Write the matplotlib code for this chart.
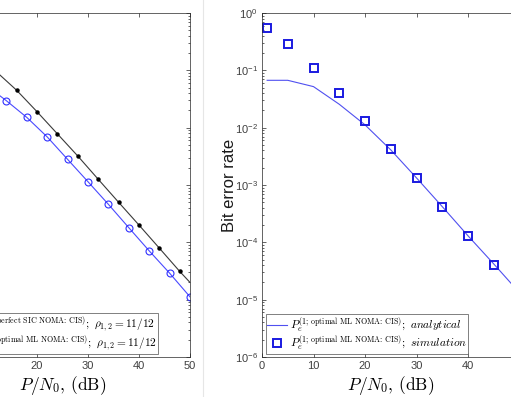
import matplotlib
matplotlib.use("Agg")
import matplotlib.pyplot as plt
from matplotlib.font_manager import FontProperties
from matplotlib.lines import Line2D
from matplotlib.ticker import LogLocator, NullFormatter

plt.rcParams["font.family"] = ["Liberation Sans", "DejaVu Sans"]
plt.rcParams["mathtext.fontset"] = "cm"

# ── data ──────────────────────────────────────────────────────────────────────
snr_sic = [0, 4, 8, 12, 16, 20, 24, 28, 32, 36, 40, 44, 48, 50]
ber_sic = [0.5, 0.36, 0.2, 0.095, 0.045, 0.019, 0.0078, 0.0032, 0.00126,
           5.0e-4, 2.0e-4, 7.9e-5, 3.1e-5, 2.0e-5]
snr_ml = [2, 6, 10, 14, 18, 22, 26, 30, 34, 38, 42, 46, 50]
ber_ml = [0.25, 0.15, 0.055, 0.0295, 0.0151, 0.0069, 0.0028, 0.00114,
          4.6e-4, 1.8e-4, 7.1e-5, 2.9e-5, 1.12e-5]

snr_ana = [1, 5, 10, 15, 20, 25, 30, 35, 40, 45, 50]
ber_ana = [0.067, 0.067, 0.052, 0.0256, 0.0112, 0.0041, 0.00133, 4.2e-4,
           1.3e-4, 4.2e-5, 1.32e-5]
snr_sim = [1, 5, 10, 15, 20, 25, 30, 35, 40, 45, 50]
ber_sim = [0.55, 0.29, 0.112, 0.041, 0.0132, 0.0043, 0.00134, 4.2e-4,
           1.27e-4, 4.1e-5, 1.3e-5]

xticks = [0, 10, 20, 30, 40, 50]

sup_sic = r"(1;\,\text{perfect SIC NOMA: CIS})"
sup_ml = r"(1;\,\text{optimal ML NOMA: CIS})"
lbl_sic = r"$P_e^{" + sup_sic + r"};\ \rho_{1,2}=11/12$"
lbl_ml = r"$P_e^{" + sup_ml + r"};\ \rho_{1,2}=11/12$"
lbl_ana = r"$P_e^{" + sup_ml + r"};\ \mathit{analytical}$"
lbl_sim = r"$P_e^{" + sup_ml + r"};\ \mathit{simulation}$"
xlab = r"$P/N_0,\,(\mathrm{dB})$"

W, H = 511, 397
fig = plt.figure(figsize=(W / 100, H / 100), dpi=100)
bot, hgt = 40 / H, 344 / H
axL = fig.add_axes([-65 / W, bot, 255 / W, hgt])
axR = fig.add_axes([262 / W, bot, 257.5 / W, hgt])

# separator between the two panels
fig.add_artist(Line2D([203 / W, 203 / W], [0, 1], color="0.9", lw=0.8,
                      transform=fig.transFigure))


def style(ax):
    ax.set_yscale("log")
    ax.set_xlim(0, 50)
    ax.set_ylim(1e-6, 1)
    ax.set_xticks(xticks)
    ax.yaxis.set_major_locator(LogLocator(base=10, numticks=10))
    ax.yaxis.set_minor_locator(LogLocator(base=10, subs=range(2, 10), numticks=10))
    ax.yaxis.set_minor_formatter(NullFormatter())
    ax.tick_params(which="both", direction="in", top=True, right=True,
                   colors="0.15", labelcolor="0.25", labelsize=8, width=0.5)
    ax.tick_params(which="major", length=3, pad=3)
    ax.tick_params(which="minor", length=1.6)
    for s in ax.spines.values():
        s.set_linewidth(0.5)
        s.set_color("0.15")


def legend(ax, loc, anchor):
    leg = ax.legend(loc=loc, bbox_to_anchor=anchor,
                    bbox_transform=fig.transFigure, borderaxespad=0,
                    prop=FontProperties(size=8.2, math_fontfamily="cm"),
                    fancybox=False, framealpha=1, edgecolor="0.3",
                    handlelength=1.7, handletextpad=0.3, borderpad=0.1,
                    labelspacing=-0.1)
    leg.get_frame().set_linewidth(0.5)
    return leg


style(axL)
style(axR)

# ── left panel ────────────────────────────────────────────────────────────────
axL.plot(snr_sic, ber_sic, color="#3a3a3a", lw=0.8, marker="o", ms=2.2,
         mfc="black", mec="black", markevery=list(range(len(snr_sic) - 1)),
         label=lbl_sic)
axL.plot(snr_ml, ber_ml, color="#4a4aff", lw=0.8, marker="o", ms=5,
         mfc="none", mec="#3030ff", mew=0.8, label=lbl_ml)
axL.set_xlabel(xlab, fontsize=12.5, math_fontfamily="cm")
axL.xaxis.set_label_coords(0.5, -0.05)
legend(axL, "lower right", (158 / W, 43 / H))

# ── right panel ───────────────────────────────────────────────────────────────
axR.plot(snr_ana, ber_ana, color="#5050f0", lw=0.8, label=lbl_ana)
axR.plot(snr_sim, ber_sim, ls="none", marker="s", ms=5.5, mfc="none",
         mec="#1a1ae0", mew=1.4, label=lbl_sim)
axR.set_ylabel("Bit error rate", fontsize=12, color="0.1")
axR.yaxis.set_label_coords(-0.097, 0.5)
axR.set_xlabel(xlab, fontsize=12.5, math_fontfamily="cm")
axR.xaxis.set_label_coords(0.5, -0.05)
legend(axR, "lower left", (266 / W, 43 / H))

fig.savefig("out.png", dpi=100)
